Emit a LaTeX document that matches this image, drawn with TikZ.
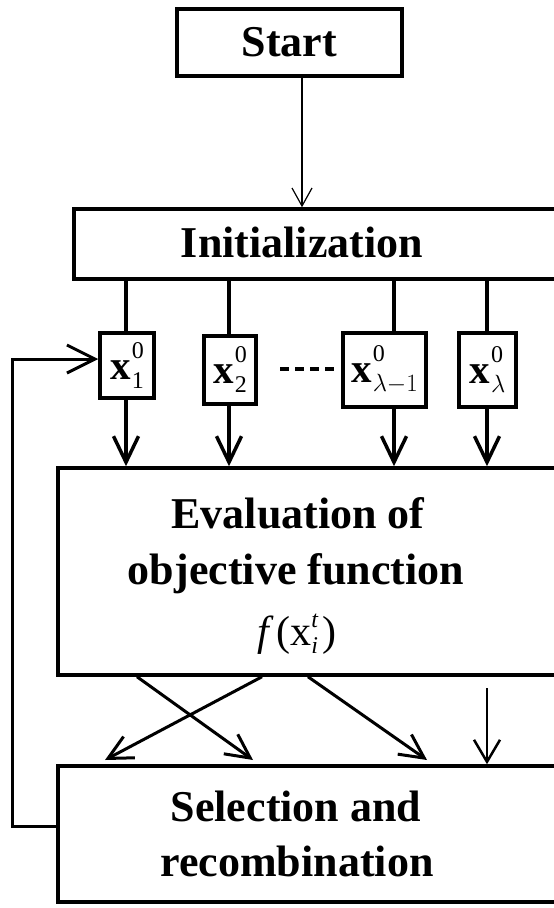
\documentclass[tikz,border=0pt]{standalone}
\usepackage{fontspec}
\setmainfont{Liberation Serif}
\usetikzlibrary{arrows.meta,calc}
\newcommand{\bigtxt}[1]{{\fontsize{44}{44}\selectfont\bfseries #1}}
\newcommand{\smalltxt}[1]{{\fontsize{24}{24}\selectfont #1}}
\newcommand{\xvar}[1]{{\fontsize{41}{41}\selectfont\bfseries x}\hspace{1pt}\rlap{\raisebox{21pt}{\smalltxt{0}}}\raisebox{-9pt}{\smalltxt{#1}}}
\begin{document}
\begin{tikzpicture}[x=1pt,y=-1pt,
  box/.style={draw, line width=3.5pt, inner sep=0pt},
  lbl/.style={inner sep=0pt, anchor=base},
  conn/.style={line width=3.5pt},
  arr/.style={line width=3.5pt, -{Straight Barb[length=26pt,width=25pt]}},
  thinarr/.style={line width=1.2pt, -{Straight Barb[length=18pt,width=20pt]}},
  diagarr/.style={line width=3pt, -{Straight Barb[length=24pt,width=24pt]}},
  vertarr/.style={line width=2.5pt, -{Straight Barb[length=22pt,width=26pt]}}]
\useasboundingbox (0,0) rectangle (554,908);
\clip (0,0) rectangle (554,908);
\fill[white] (0,0) rectangle (554,908);

% boxes
\node[box, minimum width=225, minimum height=67] (start) at (289.5,42.5) {\bigtxt{Start}};
\node[box, minimum width=526, minimum height=70] (init) at (337,244) {};
\node[inner sep=0pt] (initL) at (302,242.5) {\bigtxt{Initialization}};

\node[box, minimum width=54, minimum height=65] (x1) at (127,365.5) {\xvar{1}};
\node[box, minimum width=52, minimum height=68] (x2) at (230,370) {\xvar{2}};
\node[box, minimum width=83, minimum height=74] (xl1) at (384.5,370) {\xvar{$\lambda{-}1$}};
\node[box, minimum width=57, minimum height=74] (xl) at (487.5,370) {\xvar{$\lambda$}};

\node[box, minimum width=542, minimum height=207] (eval) at (329,571.5) {};
\node[lbl] (ev1) at (298,528) {\bigtxt{Evaluation of}};
\node[lbl] (ev2) at (296,584) {\bigtxt{objective function}};
\node[lbl] (ev3) at (297,645) {{\fontsize{42}{42}\selectfont\textit{f}\hspace{2pt}(x\rlap{\raisebox{18pt}{\smalltxt{\textit{t}}}}\raisebox{-8pt}{\smalltxt{\textit{i}}}\hspace{4pt})}};

\node[box, minimum width=542, minimum height=136] (sel) at (329,834) {};
\node[lbl] (se1) at (296,821) {\bigtxt{Selection and}};
\node[lbl] (se2) at (297,876) {\bigtxt{recombination}};

% column coordinates
\coordinate (cs) at (302,0);
\coordinate (c1) at (126,0);
\coordinate (c2) at (229,0);
\coordinate (c3) at (394,0);
\coordinate (c4) at (487,0);

% start -> init
\draw[thinarr] (start.south -| cs) -- (init.north -| cs);

% init -> small boxes
\foreach \b/\c in {x1/c1, x2/c2, xl1/c3, xl/c4}{
  \draw[conn] (init.south -| \c) -- (\b.north -| \c);
  \draw[arr] (\b.south -| \c) -- (eval.north -| \c);
}

% dashed
\coordinate (dA) at (280,369);
\coordinate (dB) at (335,369);
\draw[line width=3.5pt, dash pattern=on 9pt off 6pt] (dA) -- (dB);

% eval -> selection
\coordinate (a1) at (137,0);
\coordinate (a2) at (262,0);
\coordinate (a3) at (308,0);
\coordinate (b1) at (253,760);
\coordinate (b2) at (105,760);
\coordinate (b3) at (427,760);
\draw[diagarr] (eval.south -| a1) -- (b1);
\draw[diagarr] (eval.south -| a2) -- (b2);
\draw[diagarr] (eval.south -| a3) -- (b3);
\coordinate (v1) at (487,688);
\draw[vertarr] (v1) -- (sel.north -| v1);

% feedback
\coordinate (fb1) at (12,826);
\coordinate (fb2) at (12,359);
\draw[line width=3pt, -{Straight Barb[length=28pt,width=28pt]}] (sel.west |- fb1) -- (fb1) -- (fb2) -- (x1.west |- fb2);
\end{tikzpicture}
\end{document}
